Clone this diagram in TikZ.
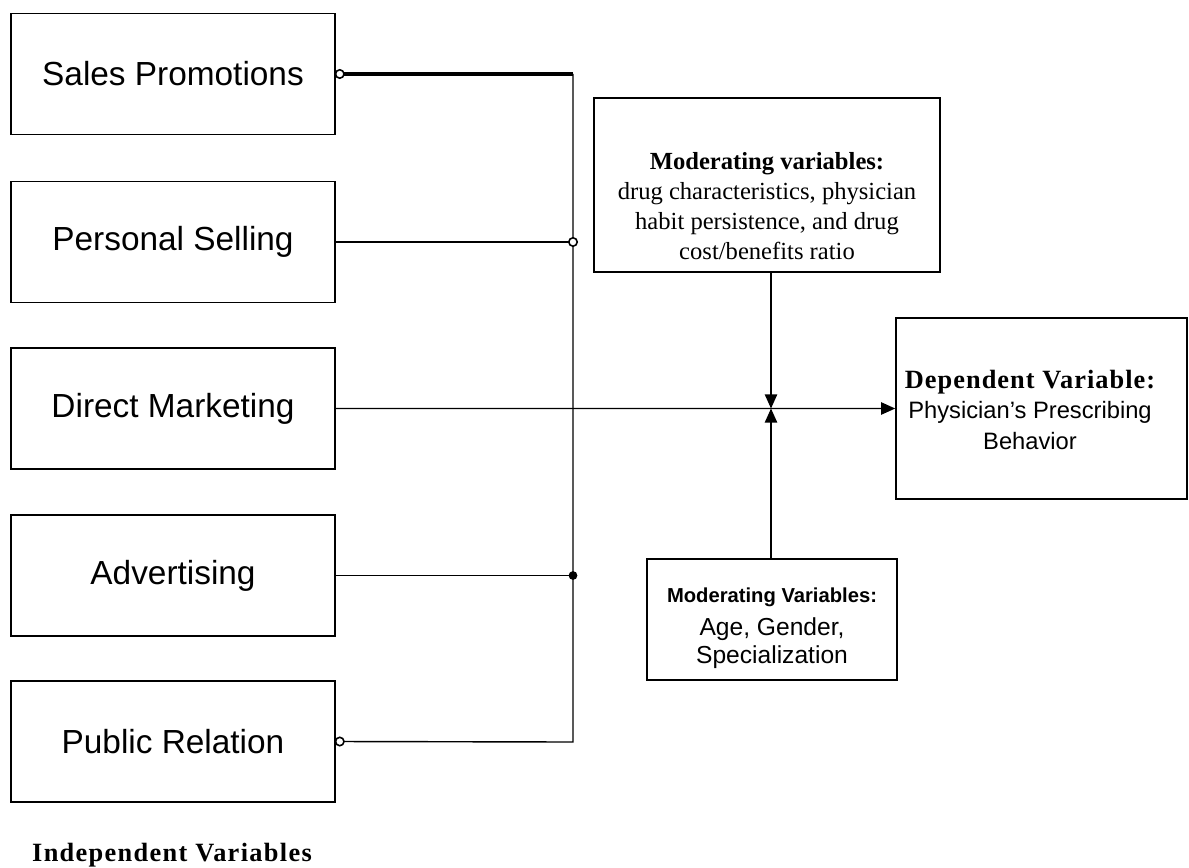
\documentclass[tikz,border=0pt]{standalone}
\usepackage{fontspec}
\setmainfont{Liberation Serif}
\setsansfont{Liberation Sans}
\usetikzlibrary{arrows.meta,fit}

\tikzset{
    % Box of an independent variable (left column)
    ivbox/.style={
        draw, rectangle, line width=0.9pt,
        minimum width=6.48cm, minimum height=2.42cm,
        font=\sffamily\fontsize{19}{22}\selectfont
    },
    % Plain box for moderating / dependent variables
    varbox/.style={draw, rectangle, line width=0.9pt, inner sep=0pt, align=center},
    % Connectors
    link/.style={line width=0.8pt},
    thicklink/.style={line width=2.2pt},
    arrowlink/.style={line width=0.8pt, -{Triangle[length=8pt,width=7pt]}},
    % Junction marks
    opendot/.style={circle, draw, line width=0.9pt, fill=white,
        inner sep=0pt, minimum size=4.8pt},
    fulldot/.style={circle, fill, inner sep=0pt, minimum size=5pt},
}

\begin{document}
\begin{tikzpicture}[x=0.02cm, y=-0.02cm]
      \useasboundingbox (0,0) rectangle (1189,868);
      % independent variables
      \node[ivbox] (sales)    at (173,74)    {Sales Promotions};
      \node[ivbox] (personal) at (173,242)   {Personal Selling};
      \node[ivbox] (direct)   at (173,408.5) {Direct Marketing};
      \node[ivbox] (advert)   at (173,575.5) {Advertising};
      \node[ivbox] (public)   at (173,741.5) {Public Relation};
      \node[font=\bfseries\fontsize{15}{18}\selectfont\addfontfeature{LetterSpace=5}] (ivlabel) at (172,855) {Independent Variables};
      % moderating variables (top)
      \node[align=center, font=\fontsize{14}{17}\selectfont] (modtext) at (767,206)
        {\textbf{Moderating variables:}\\drug characteristics, physician\\habit persistence, and drug\\cost/benefits ratio};
      \node[varbox, fit={(594,98) (940,272)}] (modtop) {};
      % dependent variable
      \node[align=center, font=\sffamily\fontsize{13.5}{18}\selectfont] (deptext) at (1030,410)
        {{\rmfamily\bfseries\fontsize{15}{18}\selectfont\addfontfeature{LetterSpace=4}Dependent Variable:}\\[-1pt]
         Physician's Prescribing\\Behavior};
      \node[varbox, fit={(896,318) (1187,499)}] (dep) {};
      % moderating variables (bottom)
      \node[align=center, font=\sffamily\fontsize{14}{16}\selectfont] (modbottext) at (772,628)
        {{\bfseries\fontsize{11.5}{14}\selectfont Moderating Variables:}\\[3pt]
         Age, Gender,\\Specialization};
      \node[varbox, fit={(647,559) (897,680)}] (modbot) {};
      % bus lines
      \coordinate (bustop) at (573,74);
      \coordinate (busbot) at (573,742);
      \coordinate (hub) at (771,408.5);
      \draw[thicklink] (sales.east) -- (bustop);
      \draw[link] (bustop) -- (busbot) -- (public.east);
      \draw[link] (personal.east) -- (personal.east -| bustop);
      \draw[link] (advert.east) -- (advert.east -| bustop);
      \draw[arrowlink] (direct.east) -- (dep.west);
      \draw[arrowlink] (modtop.south -| hub) -- (hub);
      \draw[arrowlink] (modbot.north -| hub) -- (hub);
      % junction marks
      \node[opendot] (salesdot)  at ([xshift=0.08cm]sales.east) {};
      \node[opendot] (publicdot) at ([xshift=0.08cm]public.east) {};
      \node[opendot] (persdot)   at (personal.east -| bustop) {};
      \node[fulldot] (advdot)    at (advert.east -| bustop) {};
\end{tikzpicture}
\end{document}
